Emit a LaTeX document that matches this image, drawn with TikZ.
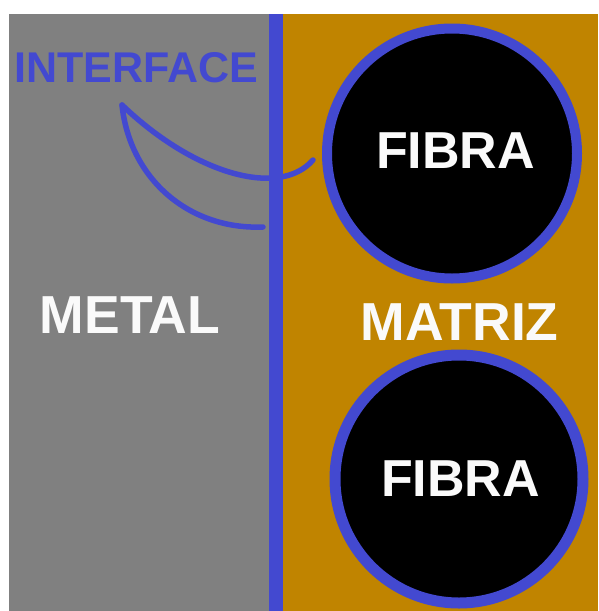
\documentclass[tikz,border=0pt]{standalone}
\usepackage{fontspec}
\setmainfont{Liberation Sans}
\definecolor{ifblue}{RGB}{67,73,208}
\definecolor{matorange}{RGB}{192,132,0}
\definecolor{metgray}{RGB}{128,128,128}
\definecolor{txtwhite}{RGB}{250,250,250}
\begin{document}
\begin{tikzpicture}[x=1pt,y=-1pt,
  lbl/.style={font=\fontsize{53.5}{53.5}\selectfont\bfseries, text=txtwhite, inner sep=0pt},
  fiblbl/.style={font=\fontsize{52}{52}\selectfont\bfseries, text=txtwhite, inner sep=0pt},
  fiber/.style={circle, fill=black, draw=ifblue, inner sep=0pt},
  pointer/.style={draw=ifblue, line width=5.5pt, line cap=round}]
\useasboundingbox (0,0) rectangle (598,611);
\fill[white] (0,0) rectangle (598,611);
% regions
\fill[metgray] (9,14) rectangle (269,611);
\fill[matorange] (283,14) rectangle (598,611);
\fill[ifblue] (269,14) rectangle (283,611);
% fibers
\node[fiber, minimum size=250pt, line width=10pt] (f1) at (452,153.5) {};
\node[fiber, minimum size=248pt, line width=11pt] (f2) at (459,479) {};
\node[fiblbl] (t1) at (455.5,150.5) {FIBRA};
\node[fiblbl] (t2) at (460.5,478.5) {FIBRA};
% labels
\node[lbl] (metal) at (130,315) {METAL};
\node[lbl] (matriz) at (459.5,322) {MATRIZ};
\node[font=\fontsize{43}{43}\selectfont\bfseries, text=ifblue, inner sep=0pt] (iface) at (136,68) {INTERFACE};
% pointers
\coordinate (tip) at (122,105);
\coordinate (e1) at (313,160);
\coordinate (e2) at (263,227);
\draw[pointer] (tip) .. controls (195,175) and (280,198) .. (e1);
\draw[pointer] (tip) .. controls (130,180) and (190,230) .. (e2);
\end{tikzpicture}
\end{document}
